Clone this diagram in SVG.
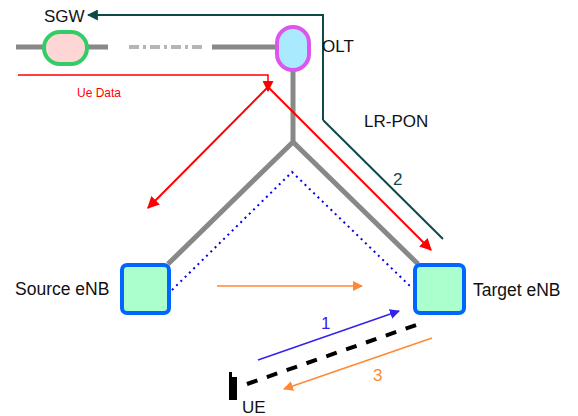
<svg xmlns="http://www.w3.org/2000/svg" width="578" height="416" viewBox="0 0 578 416">
<defs>
<style>
text{font-family:"Liberation Sans",Arial,sans-serif;font-size:17px;fill:#111}
.gray{stroke:#888;stroke-width:5;fill:none}
.enb{fill:#aaffcc;stroke:#0066ff;stroke-width:4}
</style>
<marker id="aRed" viewBox="0 0 10 10" refX="9" refY="5" markerWidth="11" markerHeight="11" orient="auto" markerUnits="userSpaceOnUse"><path d="M0,0L10,5L0,10z" fill="#ff0000"/></marker>
<marker id="aRedL" viewBox="0 0 10 10" refX="9" refY="5" markerWidth="12" markerHeight="12" orient="auto" markerUnits="userSpaceOnUse"><path d="M0,0L10,5L0,10z" fill="#ff0000"/></marker>
<marker id="aTeal" viewBox="0 0 10 10" refX="9" refY="5" markerWidth="11" markerHeight="11" orient="auto" markerUnits="userSpaceOnUse"><path d="M0,0L10,5L0,10z" fill="#0d4a4a"/></marker>
<marker id="aBlue" viewBox="0 0 10 10" refX="9" refY="5" markerWidth="10" markerHeight="10" orient="auto" markerUnits="userSpaceOnUse"><path d="M0,0L10,5L0,10z" fill="#3322ee"/></marker>
<marker id="aOr" viewBox="0 0 10 10" refX="9" refY="5" markerWidth="10" markerHeight="10" orient="auto" markerUnits="userSpaceOnUse"><path d="M0,0L10,5L0,10z" fill="#ff8833"/></marker>
</defs>
<g id="connectors">
<line class="gray" x1="16" y1="47" x2="108" y2="47"/>
<line x1="129" y1="47" x2="204" y2="47" stroke="#b5b5b5" stroke-width="4" stroke-dasharray="10,4,3,4"/>
<line class="gray" x1="212" y1="47" x2="278" y2="47"/>
<polyline class="gray" points="293,70 293,142 168,264"/>
<line class="gray" x1="293" y1="142" x2="418" y2="264"/>
<polyline points="172,290 292,172 412,288" fill="none" stroke="#0000ee" stroke-width="2" stroke-dasharray="2,4"/>
<polyline points="323,120 323,15 88,15" fill="none" stroke="#0d4a4a" stroke-width="2" marker-end="url(#aTeal)"/>
<line x1="443" y1="239" x2="323" y2="120" stroke="#0d4a4a" stroke-width="2"/>
<polyline points="18,75 268,75 268,91" fill="none" stroke="#ff0000" stroke-width="1.5" marker-end="url(#aRed)"/>
<line x1="268" y1="87" x2="148" y2="208" stroke="#ff0000" stroke-width="2" marker-end="url(#aRedL)"/>
<line x1="268" y1="87" x2="431" y2="250" stroke="#ff0000" stroke-width="2" marker-end="url(#aRedL)"/>
<line x1="217" y1="286" x2="362" y2="286" stroke="#ff8833" stroke-width="1.5" marker-end="url(#aOr)"/>
<line x1="247" y1="384" x2="419" y2="324" stroke="#000" stroke-width="4" stroke-dasharray="11,10"/>
<line x1="258" y1="360" x2="399" y2="311" stroke="#3322ee" stroke-width="1.5" marker-end="url(#aBlue)"/>
<line x1="432" y1="338" x2="284" y2="389" stroke="#ff8833" stroke-width="1.5" marker-end="url(#aOr)"/>
</g>
<g id="sgw">
<rect x="44" y="32" width="43" height="32" rx="16" fill="#ffd6d6" stroke="#33cc66" stroke-width="4"/>
<text x="44" y="22">SGW</text>
</g>
<g id="olt">
<rect x="277" y="27" width="32" height="43" rx="16" fill="#aaeaff" stroke="#dd55ee" stroke-width="4"/>
<text x="322" y="52">OLT</text>
</g>
<g id="source-enb">
<rect class="enb" x="122" y="265" width="47" height="48" rx="5"/>
<text x="15" y="295" style="font-size:17.5px">Source eNB</text>
</g>
<g id="target-enb">
<rect class="enb" x="415" y="265" width="49" height="48" rx="5"/>
<text x="473" y="296" style="font-size:17.5px">Target eNB</text>
</g>
<g id="ue">
<rect x="229" y="377" width="8" height="23" fill="#000"/>
<rect x="229" y="372" width="3" height="6" fill="#000"/>
<text x="242" y="413">UE</text>
</g>
<g id="labels">
<text x="77" y="97" style="font-size:12px;fill:#ff0000">Ue Data</text>
<text x="364" y="127">LR-PON</text>
<text x="393" y="185" style="fill:#0d4a4a">2</text>
<text x="321" y="329" style="fill:#3322ee">1</text>
<text x="373" y="381" style="fill:#ff8833">3</text>
</g>
</svg>
